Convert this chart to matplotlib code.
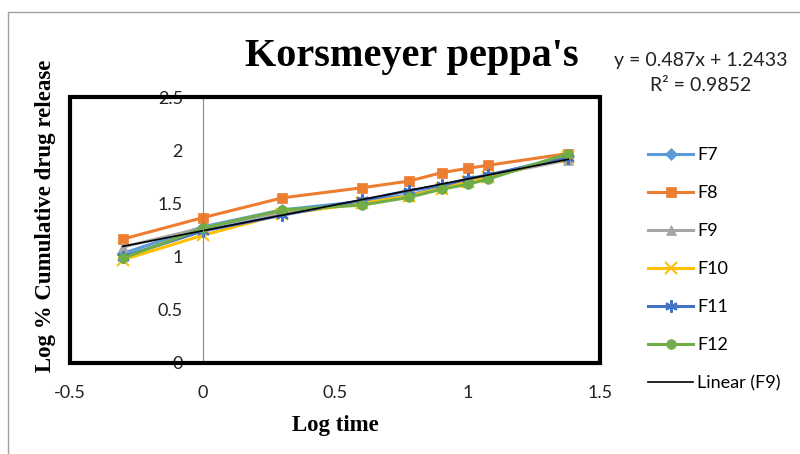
import numpy as np
import matplotlib.pyplot as plt
from matplotlib.patches import Rectangle

log_time = [-0.301, 0.0, 0.301, 0.602, 0.778, 0.903, 1.0, 1.079, 1.380]

F7 = [1.03, 1.28, 1.44, 1.52, 1.58, 1.65, 1.72, 1.76, 1.95]
F8 = [1.165, 1.366, 1.553, 1.648, 1.71, 1.79, 1.83, 1.86, 1.97]
F9 = [1.09, 1.27, 1.42, 1.50, 1.57, 1.65, 1.70, 1.76, 1.91]
F10 = [0.97, 1.20, 1.40, 1.50, 1.57, 1.64, 1.70, 1.75, 1.94]
F11 = [1.00, 1.24, 1.39, 1.53, 1.62, 1.67, 1.73, 1.77, 1.93]
F12 = [0.984, 1.266, 1.44, 1.485, 1.557, 1.635, 1.68, 1.73, 1.97]

slope = 0.487
intercept = 1.2433
r2 = 0.9852

series = [
    ('F7', F7, '#5B9BD5', 'D', 6),
    ('F8', F8, '#ED7D31', 's', 7),
    ('F9', F9, '#A5A5A5', '^', 7),
    ('F10', F10, '#FFC000', 'x', 8),
    ('F11', F11, '#4472C4', (6, 2, 0), 9),
    ('F12', F12, '#70AD47', 'o', 7),
]

fig = plt.figure(figsize=(8, 4.54), dpi=100)
ax = fig.add_axes([0.0875, 0.2005, 0.6625, 0.5855])

for name, vals, col, mk, ms in series:
    ax.plot(log_time, vals, color=col, marker=mk, markersize=ms, lw=2.2,
            markeredgewidth=1.5 if mk in ('x', (6, 2, 0)) else 0.5,
            markeredgecolor=col, label=name)

xt = np.array([log_time[0], log_time[-1]])
ax.plot(xt, slope * xt + intercept, color='black', lw=1.2, label='Linear (F9)')

ax.set_xlim(-0.5, 1.5)
ax.set_ylim(0, 2.5)
ax.set_xticks([-0.5, 0, 0.5, 1, 1.5])
ax.set_xticklabels(['-0.5', '0', '0.5', '1', '1.5'])
ax.set_yticks([0, 0.5, 1, 1.5, 2, 2.5])
ax.set_yticklabels(['0', '0.5', '1', '1.5', '2', '2.5'])

for s in ['top', 'right', 'bottom']:
    ax.spines[s].set_visible(False)
ax.spines['left'].set_position(('data', 0))
ax.spines['left'].set_color('#888888')
ax.spines['left'].set_linewidth(0.8)
ax.tick_params(axis='both', length=0, labelsize=13, colors='#222222')
ax.tick_params(axis='x', pad=16)
ax.tick_params(axis='y', pad=14)
for lab in ax.get_xticklabels() + ax.get_yticklabels():
    lab.set_family('Lato')

ax.add_patch(Rectangle((0, 0), 1, 1, transform=ax.transAxes, fill=False,
                       ec='black', lw=3, clip_on=False, zorder=5))

fig.text(0.515, 0.876, "Korsmeyer peppa's", family='Liberation Serif',
         weight='bold', fontsize=29, ha='center', va='center')
ax.set_xlabel('Log time', family='Liberation Serif', weight='bold',
              fontsize=16.5, labelpad=10)
fig.text(0.057, 0.525, 'Log % Cumulative drug release', family='Liberation Serif',
         weight='bold', fontsize=16.5, rotation=90, ha='center', va='center')

fig.text(0.876, 0.866, 'y = 0.487x + 1.2433', family='Lato', fontsize=14,
         ha='center', va='center', color='#222222')
fig.text(0.876, 0.811, 'R² = 0.9852', family='Lato', fontsize=14,
         ha='center', va='center', color='#222222')

leg = fig.legend(loc='upper left', bbox_to_anchor=(0.799, 0.696), frameon=False,
                 prop={'family': 'Lato', 'size': 13}, handlelength=2.5,
                 labelspacing=1.22, handletextpad=0.2, borderpad=0)

fig.patches.append(Rectangle((0.01, -0.1), 1.2, 1.0736, transform=fig.transFigure,
                             fill=False, ec='#A0A0A0', lw=1))

fig.savefig('out.png', dpi=100)
